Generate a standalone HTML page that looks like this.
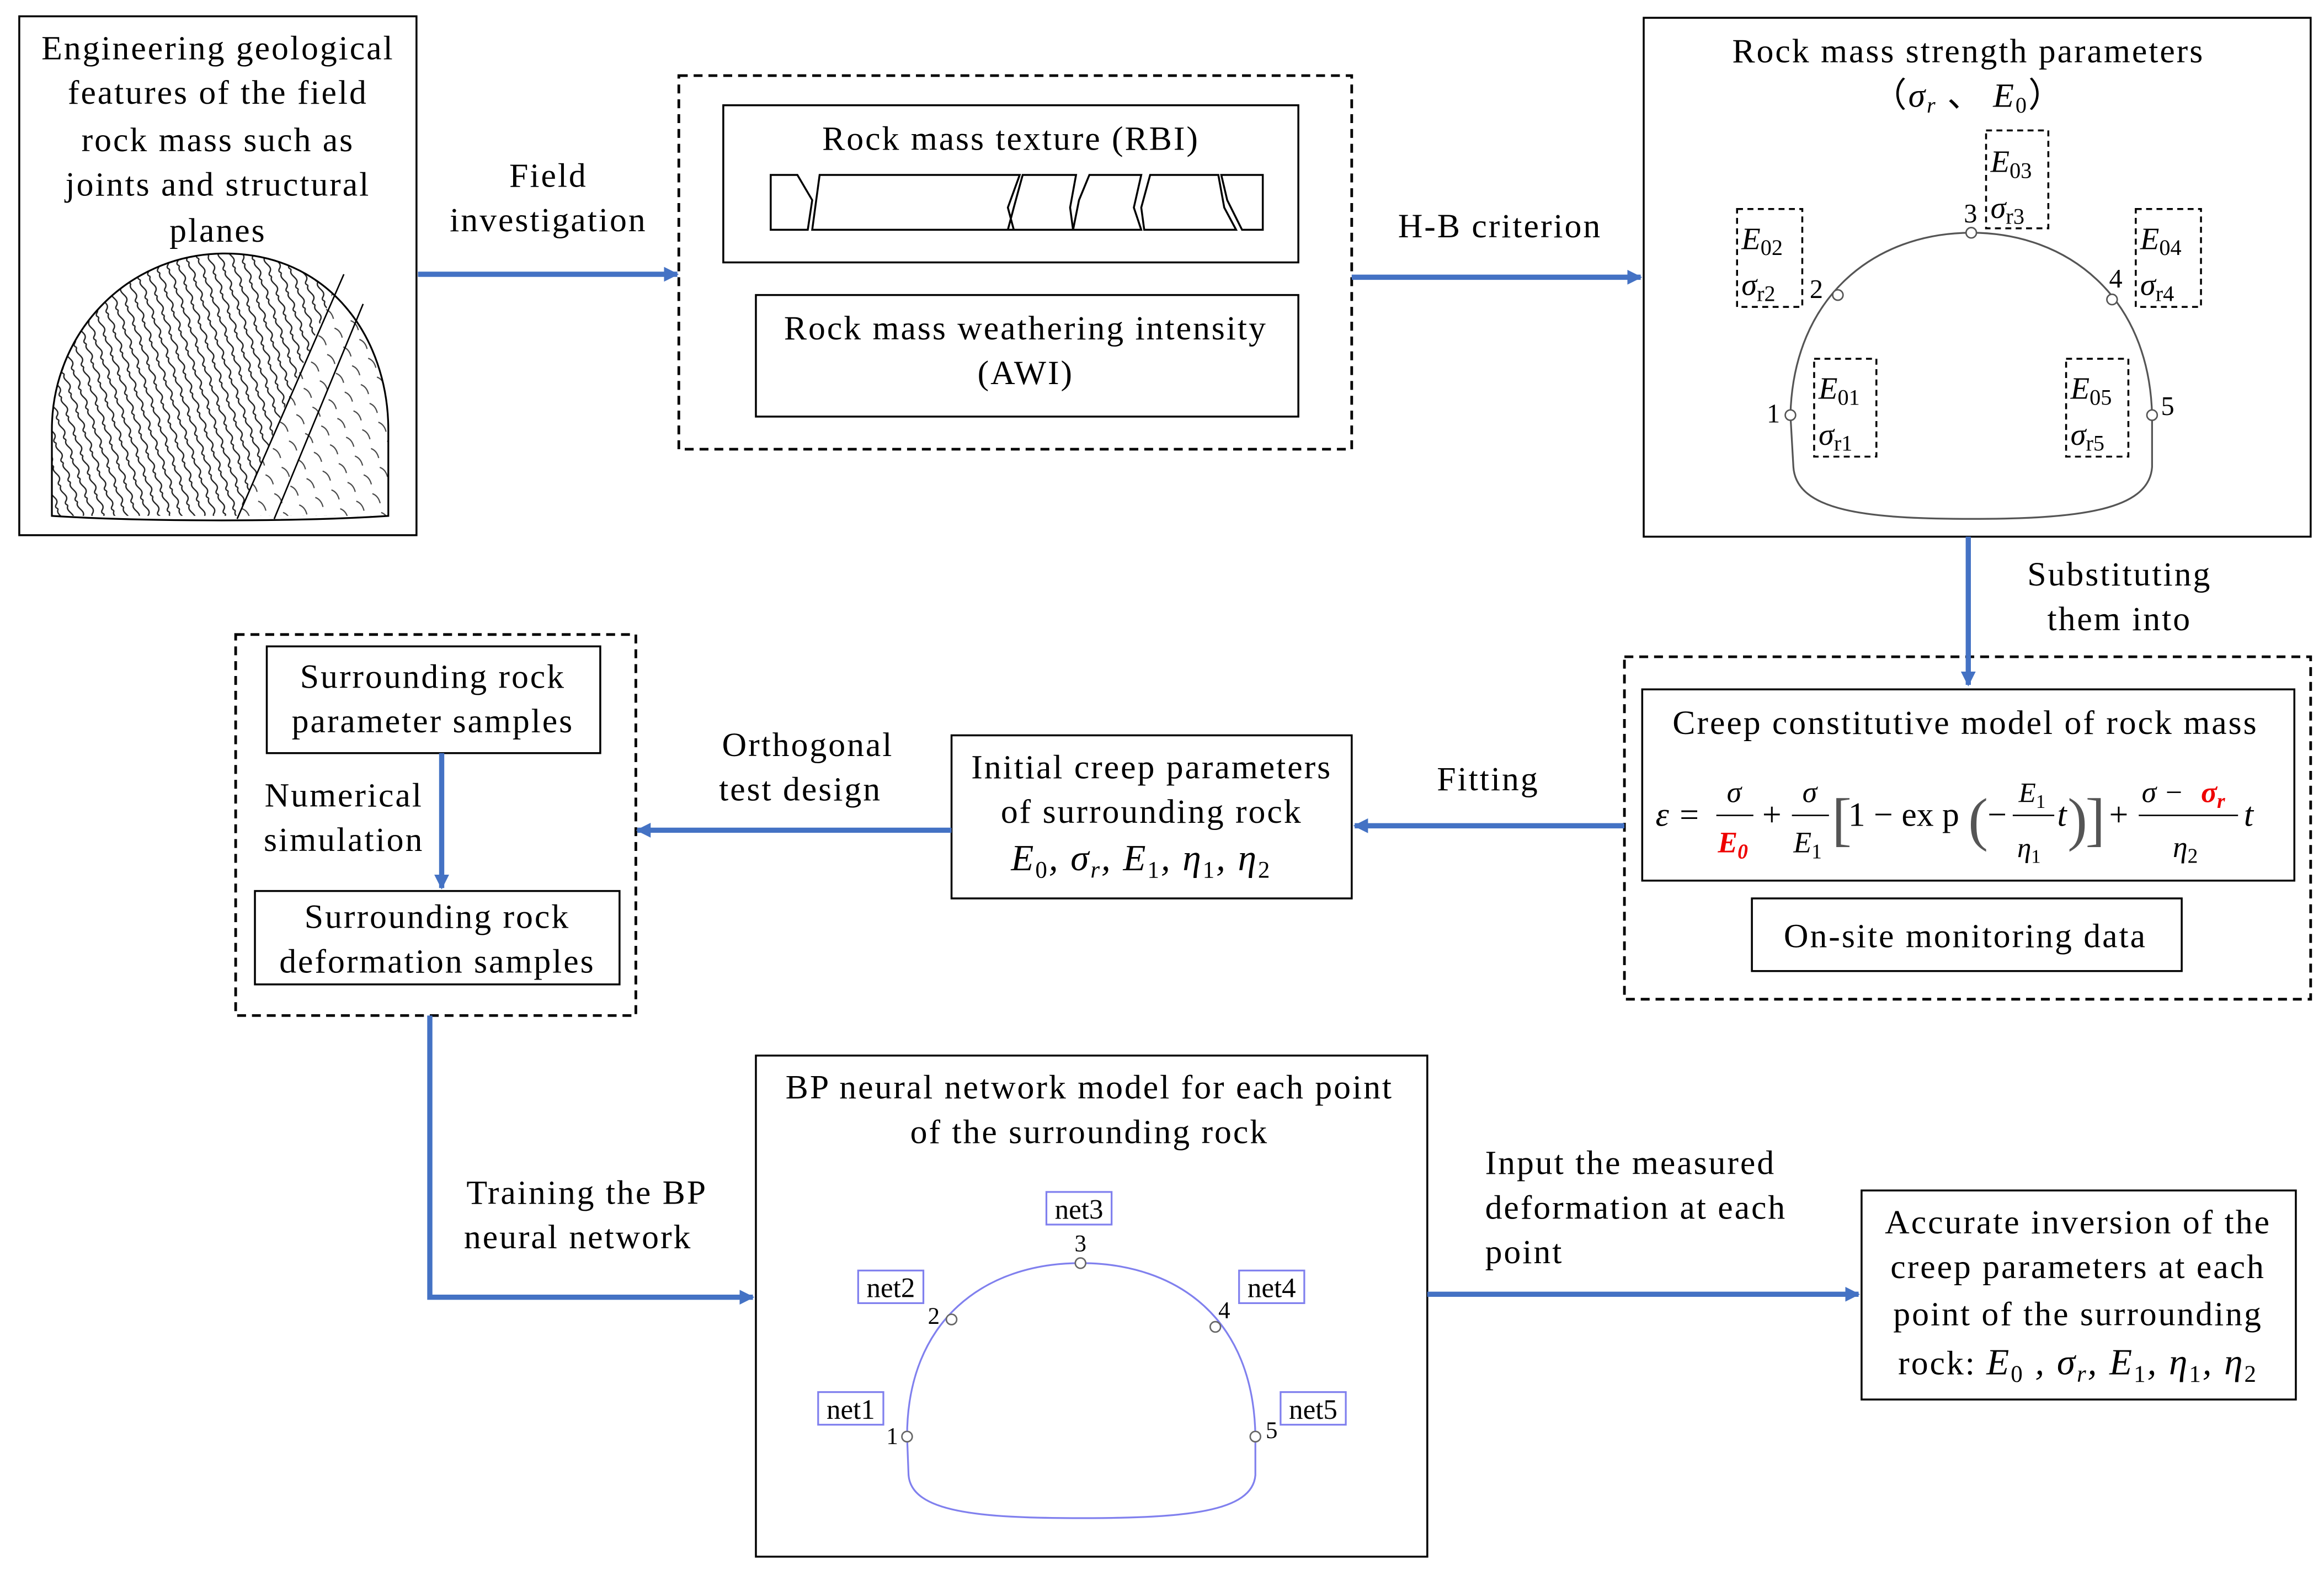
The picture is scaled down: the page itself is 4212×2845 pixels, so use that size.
<!DOCTYPE html>
<html><head><meta charset="utf-8"><style>
html,body{margin:0;padding:0;background:#fff}
svg{display:block}
text{font-family:"Liberation Serif",serif;font-size:23px;letter-spacing:1.1px;fill:#000}
.eq text,.eq{letter-spacing:0}
.c{text-anchor:middle}
.i{font-style:italic}
</style></head><body>
<svg width="4212" height="2845" viewBox="0 0 1568 1059" preserveAspectRatio="none" xmlns="http://www.w3.org/2000/svg">
<defs>
<marker id="a" markerWidth="10" markerHeight="10" refX="9" refY="5" orient="auto" markerUnits="userSpaceOnUse"><path d="M0,0 L10,5 L0,10 Z" fill="#4472C4"/></marker>
<pattern id="wave" width="7" height="14" patternUnits="userSpaceOnUse" patternTransform="rotate(-20)"><path d="M3.5,0 C0,3.5 7,7 3.5,10.5 C1.5,12 2.5,13 3.5,14" fill="none" stroke="#222" stroke-width="0.9"/></pattern>
<pattern id="dash" width="12" height="14" patternUnits="userSpaceOnUse" patternTransform="rotate(-25)"><path d="M3,2 q3,3 2,8" fill="none" stroke="#444" stroke-width="0.8"/></pattern>
<clipPath id="dome"><path d="M35,348 L35,290 C35,225 85,172 150,171 C222,170 262,228 262,290 L262,348 Z"/></clipPath>
</defs>
<rect width="1568" height="1059" fill="#fff"/>
<g fill="none" stroke="#000" stroke-width="1.3">
<rect x="13" y="11" width="268" height="350"/>
<rect x="458" y="51" width="454" height="252" stroke-dasharray="6,4" stroke-width="1.8"/>
<rect x="488" y="71" width="388" height="106"/>
<rect x="510" y="199" width="366" height="82"/>
<rect x="1109" y="12" width="450" height="350"/>
<rect x="1096" y="443" width="463" height="231" stroke-dasharray="6,4" stroke-width="1.8"/>
<rect x="1108" y="465" width="440" height="129"/>
<rect x="1182" y="606" width="290" height="49"/>
<rect x="642" y="496" width="270" height="110"/>
<rect x="159" y="428" width="270" height="257" stroke-dasharray="6,4" stroke-width="1.8"/>
<rect x="180" y="436" width="225" height="72"/>
<rect x="172" y="601" width="246" height="63"/>
<rect x="510" y="712" width="453" height="338"/>
<rect x="1256" y="803" width="293" height="141"/>
</g>
<g clip-path="url(#dome)">
<rect x="30" y="165" width="240" height="190" fill="url(#wave)"/>
<path d="M160,350 L228,190 L270,190 L270,350 Z" fill="#fff"/>
<path d="M160,350 L228,190 L270,190 L270,350 Z" fill="url(#dash)"/>
</g>
<path d="M35,348 L35,290 C35,225 85,172 150,171 C222,170 262,228 262,290 L262,348 C200,352 100,352 35,348 Z" fill="none" stroke="#000" stroke-width="1.2"/>
<path d="M160,350 L232,185 M185,350 L245,205" fill="none" stroke="#000" stroke-width="1"/>
<path d="M520,118 L538,118 L548,135 L545,155 L520,155 Z M553,118 L688,118 L680,140 L684,155 L548,155 Z M690,118 L726,118 L722,140 L724,155 L680,155 L684,140 Z M735,118 L770,118 L765,140 L770,155 L724,155 L728,135 Z M776,118 L822,118 L826,140 L834,155 L772,155 L770,140 Z M824,118 L852,118 L852,155 L838,155 L828,135 Z" fill="none" stroke="#000" stroke-width="1.3"/>
<path d="M1208,280 C1210,200 1265,157 1330,157 C1395,157 1450,200 1452,280 L1452,315 C1450,345 1400,350 1330,350 C1260,350 1212,345 1210,315 Z" fill="none" stroke="#555" stroke-width="1.2"/>
<g fill="#fff" stroke="#555" stroke-width="1"><circle cx="1208" cy="280" r="3.5"/><circle cx="1240" cy="199" r="3.5"/><circle cx="1330" cy="157" r="3.5"/><circle cx="1425" cy="202" r="3.5"/><circle cx="1452" cy="280" r="3.5"/></g>
<g fill="none" stroke="#000" stroke-width="1.3" stroke-dasharray="4,3">
<rect x="1172" y="141" width="44" height="66"/><rect x="1340" y="88" width="42" height="66"/><rect x="1441" y="141" width="44" height="66"/><rect x="1224" y="242" width="42" height="66"/><rect x="1394" y="242" width="42" height="66"/>
</g>
<g class="eq">
<text x="1192" y="285" style="font-size:18px">1</text><text x="1221" y="201" style="font-size:18px">2</text><text x="1325" y="150" style="font-size:18px">3</text><text x="1423" y="194" style="font-size:18px">4</text><text x="1458" y="280" style="font-size:18px">5</text>
<text x="1175" y="168" class="i" style="font-size:21px">E<tspan font-size="15" dy="4" font-style="normal">02</tspan></text><text x="1175" y="199" class="i" style="font-size:21px">σ<tspan font-size="15" dy="4" font-style="normal">r2</tspan></text>
<text x="1343" y="116" class="i" style="font-size:21px">E<tspan font-size="15" dy="4" font-style="normal">03</tspan></text><text x="1343" y="147" class="i" style="font-size:21px">σ<tspan font-size="15" dy="4" font-style="normal">r3</tspan></text>
<text x="1444" y="168" class="i" style="font-size:21px">E<tspan font-size="15" dy="4" font-style="normal">04</tspan></text><text x="1444" y="199" class="i" style="font-size:21px">σ<tspan font-size="15" dy="4" font-style="normal">r4</tspan></text>
<text x="1227" y="269" class="i" style="font-size:21px">E<tspan font-size="15" dy="4" font-style="normal">01</tspan></text><text x="1227" y="300" class="i" style="font-size:21px">σ<tspan font-size="15" dy="4" font-style="normal">r1</tspan></text>
<text x="1397" y="269" class="i" style="font-size:21px">E<tspan font-size="15" dy="4" font-style="normal">05</tspan></text><text x="1397" y="300" class="i" style="font-size:21px">σ<tspan font-size="15" dy="4" font-style="normal">r5</tspan></text>
</g>
<path d="M612,969 C612,890 665,852 729,852 C795,852 846,890 847,969 L847,995 C845,1020 800,1024 729,1024 C660,1024 615,1020 613,995 Z" fill="none" stroke="#8080ee" stroke-width="1.2"/>
<g fill="#fff" stroke="#666" stroke-width="1"><circle cx="612" cy="969" r="3.5"/><circle cx="642" cy="890" r="3.5"/><circle cx="729" cy="852" r="3.5"/><circle cx="820" cy="895" r="3.5"/><circle cx="847" cy="969" r="3.5"/></g>
<g fill="none" stroke="#8080ee" stroke-width="1.2">
<rect x="706" y="804" width="44" height="22"/><rect x="579" y="857" width="44" height="22"/><rect x="836" y="857" width="44" height="22"/><rect x="552" y="939" width="44" height="22"/><rect x="864" y="939" width="44" height="22"/>
</g>
<g class="eq">
<text x="728" y="822" class="c" style="font-size:19px">net3</text><text x="601" y="875" class="c" style="font-size:19px">net2</text><text x="858" y="875" class="c" style="font-size:19px">net4</text><text x="574" y="957" class="c" style="font-size:19px">net1</text><text x="886" y="957" class="c" style="font-size:19px">net5</text>
<text x="729" y="844" class="c" style="font-size:16px">3</text><text x="630" y="893" class="c" style="font-size:16px">2</text><text x="826" y="889" class="c" style="font-size:16px">4</text><text x="602" y="974" class="c" style="font-size:16px">1</text><text x="858" y="970" class="c" style="font-size:16px">5</text>
</g>
<g stroke="#4472C4" stroke-width="3.5" fill="none" marker-end="url(#a)">
<path d="M282,185 L457,185"/>
<path d="M912,187 L1107,187"/>
<path d="M1328,362 L1328,462"/>
<path d="M1096,557 L914,557"/>
<path d="M642,560 L430,560"/>
<path d="M298,508 L298,599"/>
<path d="M290,685 L290,875 L508,875"/>
<path d="M963,873 L1254,873"/>
</g>
<text x="147" y="40" class="c">Engineering  geological</text>
<text x="147" y="70" class="c">features of the field</text>
<text x="147" y="102" class="c">rock mass such as</text>
<text x="147" y="132" class="c">joints and structural</text>
<text x="147" y="163" class="c">planes</text>
<text x="370" y="126" class="c">Field</text>
<text x="370" y="156" class="c">investigation</text>
<text x="682" y="101" class="c">Rock mass texture (RBI)</text>
<text x="692" y="229" class="c">Rock mass weathering  intensity</text>
<text x="692" y="259" class="c">(AWI)</text>
<text x="1012" y="160" class="c">H-B criterion</text>
<text x="1328" y="42" class="c">Rock mass strength parameters</text>
<text x="1328" y="72" class="c">（<tspan class="i">σ</tspan><tspan font-size="15" dy="4" class="i">r</tspan><tspan dy="-4"> 、 </tspan><tspan class="i">E</tspan><tspan font-size="15" dy="4">0</tspan><tspan dy="-4">）</tspan></text>
<text x="1430" y="395" class="c">Substituting</text>
<text x="1430" y="425" class="c">them into</text>
<text x="1326" y="495" class="c">Creep constitutive model of rock mass</text>
<g class="eq">
<text x="1117" y="557" class="i">ε =</text>
<text x="1170" y="541" class="c i" style="font-size:20px">σ</text>
<line x1="1158" y1="550" x2="1183" y2="550" stroke="#000" stroke-width="1"/>
<text x="1159" y="575" class="i" style="fill:#e00;font-weight:bold;font-size:20px">E<tspan font-size="14" dy="4" style="fill:#e00">0</tspan></text>
<text x="1189" y="557">+</text>
<text x="1221" y="541" class="c i" style="font-size:20px">σ</text>
<line x1="1209" y1="550" x2="1234" y2="550" stroke="#000" stroke-width="1"/>
<text x="1210" y="575" class="i" style="font-size:20px">E<tspan font-size="14" dy="4" font-style="normal">1</tspan></text>
<text x="1236" y="566" style="font-size:40px;fill:#555">[</text>
<text x="1247" y="557">1 − ex p</text>
<text x="1328" y="566" style="font-size:40px;fill:#555">(</text>
<text x="1341" y="557">−</text>
<text x="1362" y="541" class="i" style="font-size:19px">E<tspan font-size="13" dy="4" font-style="normal">1</tspan></text>
<line x1="1358" y1="550" x2="1386" y2="550" stroke="#000" stroke-width="1"/>
<text x="1361" y="578" class="i" style="font-size:19px">η<tspan font-size="13" dy="4" font-style="normal">1</tspan></text>
<text x="1388" y="557" class="i">t</text>
<text x="1395" y="566" style="font-size:40px;fill:#555">)</text>
<text x="1407" y="566" style="font-size:40px;fill:#555">]</text>
<text x="1423" y="557">+</text>
<text x="1445" y="541" class="i" style="font-size:20px">σ −</text>
<text x="1485" y="541" class="i" style="fill:#e00;font-weight:bold;font-size:20px">σ<tspan font-size="14" dy="4" style="fill:#e00">r</tspan></text>
<line x1="1443" y1="550" x2="1510" y2="550" stroke="#000" stroke-width="1"/>
<text x="1466" y="578" class="i" style="font-size:20px">η<tspan font-size="14" dy="4" font-style="normal">2</tspan></text>
<text x="1514" y="557" class="i">t</text>
</g>
<text x="1326" y="639" class="c">On-site monitoring data</text>
<text x="1004" y="533" class="c">Fitting</text>
<text x="777" y="525" class="c">Initial  creep parameters</text>
<text x="777" y="555" class="c">of surrounding rock</text>
<text x="770" y="587" class="c i" style="font-size:25px">E<tspan font-size="16" dy="5" font-style="normal">0</tspan><tspan dy="-5">, σ</tspan><tspan font-size="16" dy="5">r</tspan><tspan dy="-5">, E</tspan><tspan font-size="16" dy="5" font-style="normal">1</tspan><tspan dy="-5">, η</tspan><tspan font-size="16" dy="5" font-style="normal">1</tspan><tspan dy="-5">, η</tspan><tspan font-size="16" dy="5" font-style="normal">2</tspan></text>
<text x="545" y="510" class="c">Orthogonal</text>
<text x="540" y="540" class="c">test design</text>
<text x="292" y="464" class="c">Surrounding rock</text>
<text x="292" y="494" class="c">parameter samples</text>
<text x="232" y="544" class="c">Numerical</text>
<text x="232" y="574" class="c">simulation</text>
<text x="295" y="626" class="c">Surrounding rock</text>
<text x="295" y="656" class="c">deformation samples</text>
<text x="396" y="812" class="c">Training the BP</text>
<text x="390" y="842" class="c">neural network</text>
<text x="735" y="741" class="c">BP neural network model for each point</text>
<text x="735" y="771" class="c">of the surrounding rock</text>
<text x="1002" y="792">Input the measured</text>
<text x="1002" y="822">deformation at each</text>
<text x="1002" y="852">point</text>
<text x="1402" y="832" class="c">Accurate inversion of the</text>
<text x="1402" y="862" class="c">creep parameters at each</text>
<text x="1402" y="894" class="c">point of the surrounding</text>
<text x="1402" y="927" class="c">rock: <tspan class="i" style="font-size:25px">E</tspan><tspan font-size="16" dy="5">0</tspan><tspan dy="-5" class="i" style="font-size:25px"> , σ</tspan><tspan font-size="16" dy="5" class="i">r</tspan><tspan dy="-5" class="i" style="font-size:25px">, E</tspan><tspan font-size="16" dy="5">1</tspan><tspan dy="-5" class="i" style="font-size:25px">, η</tspan><tspan font-size="16" dy="5">1</tspan><tspan dy="-5" class="i" style="font-size:25px">, η</tspan><tspan font-size="16" dy="5">2</tspan></text>
</svg>
</body></html>
